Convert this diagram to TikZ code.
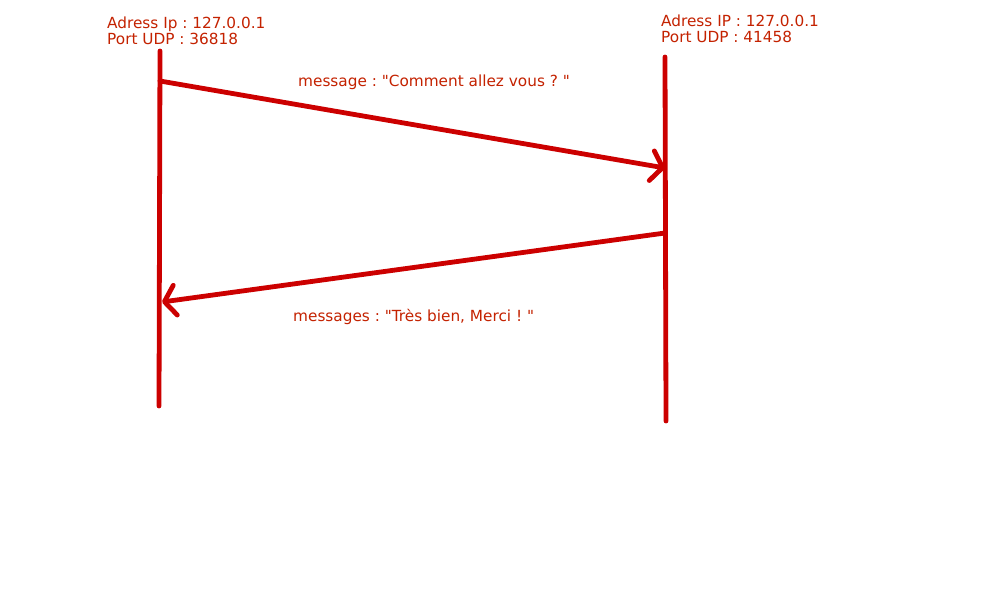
\documentclass[tikz,border=0pt]{standalone}
\usepackage{fontspec}
\setmainfont{DejaVu Sans}[Ligatures=TeXOff]
\usetikzlibrary{arrows.meta}
\definecolor{seqred}{HTML}{CC0000}
\definecolor{txtred}{HTML}{C42200}
\begin{document}
\begin{tikzpicture}[x=1pt,y=-1pt,
  lifeline/.style={draw=seqred,line width=4.8pt,line cap=round},
  msg/.style={draw=seqred,line width=4.8pt,line cap=round,-{Straight Barb[length=11pt,width=30pt,round]}},
  lbl/.style={text=txtred,font=\fontsize{15.3}{16}\selectfont\frenchspacing,inner sep=0pt,anchor=base west}]
\fill[white] (0,0) rectangle (1000,600);
\useasboundingbox (0,0) rectangle (1000,600);
% lifelines
\coordinate (lt) at (160,51);
\coordinate (lb) at (159,406);
\coordinate (rt) at (665,57);
\coordinate (rb) at (666,421);
\draw[lifeline] (lt) -- (lb);
\draw[lifeline] (rt) -- (rb);
% messages
\coordinate (m1s) at (160,81);
\coordinate (m1e) at (665,168);
\coordinate (m2s) at (665,233);
\coordinate (m2e) at (162,302);
\draw[msg] (m1s) -- (m1e);
\draw[msg] (m2s) -- (m2e);
% labels
\node[lbl] (hl1) at (107,28) {Adress Ip : 127.0.0.1};
\node[lbl] (hl2) at (107,44) {Port UDP : 36818};
\node[lbl] (hr1) at (661,26) {Adress IP : 127.0.0.1};
\node[lbl] (hr2) at (661,42) {Port UDP : 41458};
\node[lbl] (l1) at (298,86) {message : "Comment allez vous ? "};
\node[lbl] (l2) at (293,321) {messages : "Très bien, Merci ! "};
\end{tikzpicture}
\end{document}
